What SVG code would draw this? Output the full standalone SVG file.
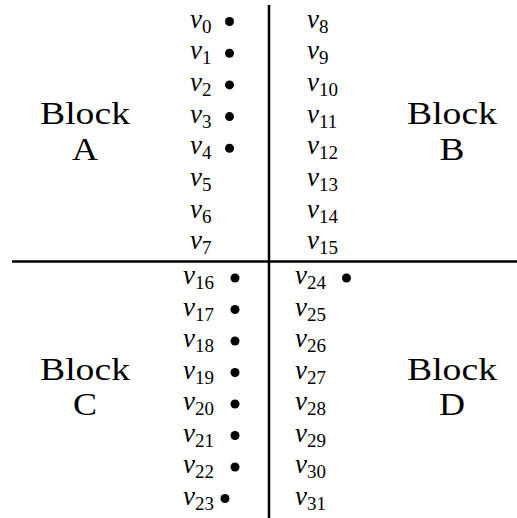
<svg xmlns="http://www.w3.org/2000/svg" width="517" height="518" viewBox="0 0 517 518">
<style>
.blk{font-family:"Liberation Serif","DejaVu Serif",serif;font-size:31px;fill:#000;text-anchor:middle}
.v{font-family:"Liberation Serif","DejaVu Serif",serif;font-size:27px;font-style:italic;fill:#000}
.s{font-size:19px;font-style:normal}
.dot{fill:#000}
.ln{stroke:#000;stroke-width:2.5;fill:none}
</style>
<rect width="517" height="518" fill="#fff"/>
<g id="dividers">
<line class="ln" x1="269" y1="5" x2="269" y2="518"/>
<line class="ln" x1="12" y1="261.5" x2="517" y2="261.5"/>
</g>
<g id="block-a"><text class="blk" x="85" y="124" textLength="90" lengthAdjust="spacingAndGlyphs">Block</text><text class="blk" x="85" y="160" textLength="26" lengthAdjust="spacingAndGlyphs">A</text></g>
<g id="block-b"><text class="blk" x="452" y="124" textLength="90" lengthAdjust="spacingAndGlyphs">Block</text><text class="blk" x="452" y="160" textLength="25" lengthAdjust="spacingAndGlyphs">B</text></g>
<g id="block-c"><text class="blk" x="85" y="380" textLength="90" lengthAdjust="spacingAndGlyphs">Block</text><text class="blk" x="85" y="415" textLength="24" lengthAdjust="spacingAndGlyphs">C</text></g>
<g id="block-d"><text class="blk" x="452" y="380" textLength="90" lengthAdjust="spacingAndGlyphs">Block</text><text class="blk" x="452" y="415" textLength="26" lengthAdjust="spacingAndGlyphs">D</text></g>
<g id="v0"><text class="v" x="190" y="27.5">v<tspan class="s" dy="5">0</tspan></text><circle class="dot" cx="229.5" cy="21.5" r="4.5"/></g>
<g id="v1"><text class="v" x="190" y="59.2">v<tspan class="s" dy="5">1</tspan></text><circle class="dot" cx="229.5" cy="53.2" r="4.5"/></g>
<g id="v2"><text class="v" x="190" y="90.9">v<tspan class="s" dy="5">2</tspan></text><circle class="dot" cx="229.5" cy="84.9" r="4.5"/></g>
<g id="v3"><text class="v" x="190" y="122.6">v<tspan class="s" dy="5">3</tspan></text><circle class="dot" cx="229.5" cy="116.6" r="4.5"/></g>
<g id="v4"><text class="v" x="190" y="154.3">v<tspan class="s" dy="5">4</tspan></text><circle class="dot" cx="229.5" cy="148.3" r="4.5"/></g>
<g id="v5"><text class="v" x="190" y="186">v<tspan class="s" dy="5">5</tspan></text></g>
<g id="v6"><text class="v" x="190" y="217.7">v<tspan class="s" dy="5">6</tspan></text></g>
<g id="v7"><text class="v" x="190" y="249.4">v<tspan class="s" dy="5">7</tspan></text></g>
<g id="v8"><text class="v" x="307" y="27.5">v<tspan class="s" dy="5">8</tspan></text></g>
<g id="v9"><text class="v" x="307" y="59.2">v<tspan class="s" dy="5">9</tspan></text></g>
<g id="v10"><text class="v" x="307" y="90.9">v<tspan class="s" dy="5">10</tspan></text></g>
<g id="v11"><text class="v" x="307" y="122.6">v<tspan class="s" dy="5">11</tspan></text></g>
<g id="v12"><text class="v" x="307" y="154.3">v<tspan class="s" dy="5">12</tspan></text></g>
<g id="v13"><text class="v" x="307" y="186">v<tspan class="s" dy="5">13</tspan></text></g>
<g id="v14"><text class="v" x="307" y="217.7">v<tspan class="s" dy="5">14</tspan></text></g>
<g id="v15"><text class="v" x="307" y="249.4">v<tspan class="s" dy="5">15</tspan></text></g>
<g id="v16"><text class="v" x="183" y="284">v<tspan class="s" dy="5">16</tspan></text><circle class="dot" cx="235" cy="278" r="4.5"/></g>
<g id="v17"><text class="v" x="183" y="315.5">v<tspan class="s" dy="5">17</tspan></text><circle class="dot" cx="235" cy="309.5" r="4.5"/></g>
<g id="v18"><text class="v" x="183" y="347">v<tspan class="s" dy="5">18</tspan></text><circle class="dot" cx="235" cy="341" r="4.5"/></g>
<g id="v19"><text class="v" x="183" y="378.5">v<tspan class="s" dy="5">19</tspan></text><circle class="dot" cx="235" cy="372.5" r="4.5"/></g>
<g id="v20"><text class="v" x="183" y="410">v<tspan class="s" dy="5">20</tspan></text><circle class="dot" cx="235" cy="404" r="4.5"/></g>
<g id="v21"><text class="v" x="183" y="441.5">v<tspan class="s" dy="5">21</tspan></text><circle class="dot" cx="235" cy="435.5" r="4.5"/></g>
<g id="v22"><text class="v" x="183" y="473">v<tspan class="s" dy="5">22</tspan></text><circle class="dot" cx="235" cy="467" r="4.5"/></g>
<g id="v23"><text class="v" x="183" y="504.5">v<tspan class="s" dy="5">23</tspan></text><circle class="dot" cx="225" cy="498.5" r="4.5"/></g>
<g id="v24"><text class="v" x="295" y="284">v<tspan class="s" dy="5">24</tspan></text><circle class="dot" cx="346.5" cy="278" r="4.5"/></g>
<g id="v25"><text class="v" x="295" y="315.5">v<tspan class="s" dy="5">25</tspan></text></g>
<g id="v26"><text class="v" x="295" y="347">v<tspan class="s" dy="5">26</tspan></text></g>
<g id="v27"><text class="v" x="295" y="378.5">v<tspan class="s" dy="5">27</tspan></text></g>
<g id="v28"><text class="v" x="295" y="410">v<tspan class="s" dy="5">28</tspan></text></g>
<g id="v29"><text class="v" x="295" y="441.5">v<tspan class="s" dy="5">29</tspan></text></g>
<g id="v30"><text class="v" x="295" y="473">v<tspan class="s" dy="5">30</tspan></text></g>
<g id="v31"><text class="v" x="295" y="504.5">v<tspan class="s" dy="5">31</tspan></text></g>
</svg>
